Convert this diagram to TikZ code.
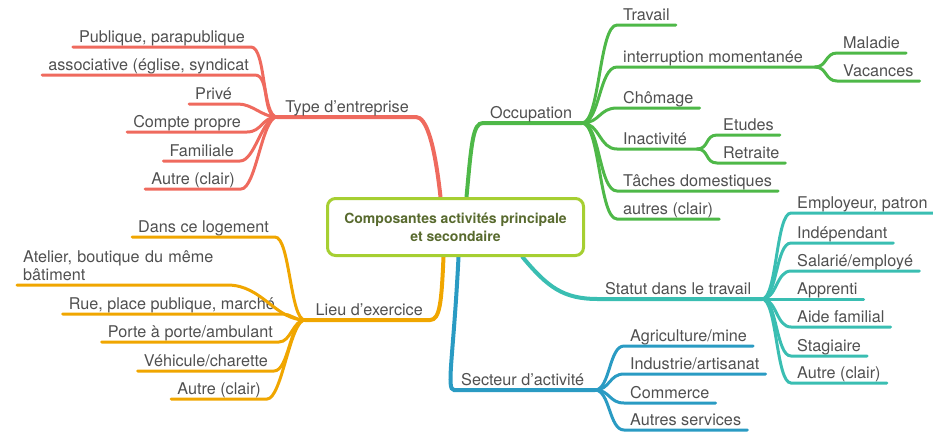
\documentclass[tikz,border=0pt]{standalone}
\usepackage{fontspec}
\setmainfont{TeX Gyre Heros}
\usepackage{xcolor}
\usepackage{tikz}
\usetikzlibrary{backgrounds}

\definecolor{mmred}{RGB}{239,106,94}
\definecolor{mmgreen}{RGB}{78,184,72}
\definecolor{mmteal}{RGB}{58,190,178}
\definecolor{mmblue}{RGB}{42,155,195}
\definecolor{mmorange}{RGB}{240,166,0}
\definecolor{mmlime}{RGB}{166,207,50}
\definecolor{mmolive}{RGB}{88,106,46}
\definecolor{mmtext}{RGB}{80,80,80}

\begin{document}
\begin{tikzpicture}[x=1pt, y=-1pt,
  root/.style={draw=mmlime, line width=3pt, rounded corners=8pt, fill=white,
    minimum width=256pt, minimum height=57pt, align=center,
    font=\fontsize{14}{18}\selectfont\bfseries, text=mmolive},
  topic/.style={font=\fontsize{16.2}{18}\selectfont, text=mmtext,
    inner xsep=7pt, inner ysep=4pt, text depth=0pt},
  leaf/.style={topic, inner xsep=6pt},
  branch/.style={line width=4pt, line cap=round},
  twig/.style={line width=3pt, line cap=round},
]
  \useasboundingbox (0,0) rectangle (933,432);

  \node[root] (root) at (455.5,227) {Composantes activités principale\\et secondaire};

  % Topics and their hubs
  \node[topic, anchor=south east] (typ) at (416,117) {Type d’entreprise};
  \coordinate (typ-hub) at (277,117);
  \node[topic, anchor=south west] (occ) at (483,123) {Occupation};
  \coordinate (occ-hub) at (582,123);
  \node[topic, anchor=south west] (stat) at (598,299) {Statut dans le travail};
  \coordinate (stat-hub) at (762,299);
  \node[topic, anchor=south west] (sec) at (454,390) {Secteur d’activité};
  \coordinate (sec-hub) at (595,390);
  \node[topic, anchor=south east] (lieu) at (430,320) {Lieu d’exercice};
  \coordinate (lieu-hub) at (305,320);

  % Main branches
  \begin{scope}[on background layer]
    \draw[branch, mmred] ([xshift=-15pt]root.north) .. controls +(-6,-55) and +(10,0) .. (typ.south east) -- (typ-hub);
    \draw[branch, mmgreen] ([xshift=11pt]root.north) .. controls +(5,-55) and +(-10,0) .. (occ.south west) -- (occ-hub);
    \draw[branch, mmorange] ([xshift=-12pt]root.south) .. controls +(-2,45) and +(10,0) .. (lieu.south east) -- (lieu-hub);
    \draw[branch, mmblue] ([xshift=3pt]root.south) .. controls +(-5,100) and +(-8,0) .. (sec.south west) -- (sec-hub);
    \draw[branch, mmteal] ([xshift=67pt]root.south) .. controls +(25,30) and +(-35,0) .. (stat.south west) -- (stat-hub);
  \end{scope}

  % Type d'entreprise
  \node[leaf, anchor=south east] (pub) at (251,47) {Publique, parapublique};
  \node[leaf, anchor=south east] (asso) at (255,75) {associative (église, syndicat};
  \node[leaf, anchor=south east] (priv) at (238,104) {Privé};
  \node[leaf, anchor=south east] (cpt) at (247,132) {Compte propre};
  \node[leaf, anchor=south east] (fam) at (240,161) {Familiale};
  \node[leaf, anchor=south east] (autr) at (241,189) {Autre (clair)};
  \draw[twig, mmred] (typ-hub) .. controls +(-15,0) and +(15,0) .. (pub.south east) -- (pub.south west);
  \draw[twig, mmred] (typ-hub) .. controls +(-15,0) and +(15,0) .. (asso.south east) -- (asso.south west);
  \draw[twig, mmred] (typ-hub) .. controls +(-15,0) and +(15,0) .. (priv.south east) -- (priv.south west);
  \draw[twig, mmred] (typ-hub) .. controls +(-15,0) and +(15,0) .. (cpt.south east) -- (cpt.south west);
  \draw[twig, mmred] (typ-hub) .. controls +(-15,0) and +(15,0) .. (fam.south east) -- (fam.south west);
  \draw[twig, mmred] (typ-hub) .. controls +(-15,0) and +(15,0) .. (autr.south east) -- (autr.south west);

  % Occupation
  \node[leaf, anchor=south west] (trav) at (617,25) {Travail};
  \node[leaf, anchor=south west] (interr) at (617,67) {interruption momentanée};
  \coordinate (int-hub) at (815,67);
  \node[leaf, anchor=south west] (mal) at (837,53) {Maladie};
  \node[leaf, anchor=south west] (vac) at (837,81) {Vacances};
  \node[leaf, anchor=south west] (cho) at (617,108) {Chômage};
  \node[leaf, anchor=south west] (inac) at (617,149) {Inactivité};
  \coordinate (ina-hub) at (697,149);
  \node[leaf, anchor=south west] (etu) at (717,135) {Etudes};
  \node[leaf, anchor=south west] (ret) at (717,163) {Retraite};
  \node[leaf, anchor=south west] (tach) at (617,191) {Tâches domestiques};
  \node[leaf, anchor=south west] (autg) at (617,219) {autres (clair)};
  \draw[twig, mmgreen] (occ-hub) .. controls +(18,0) and +(-18,0) .. (trav.south west) -- (trav.south east);
  \draw[twig, mmgreen] (occ-hub) .. controls +(18,0) and +(-18,0) .. (interr.south west) -- (int-hub);
  \draw[twig, mmgreen] (int-hub) .. controls +(12,0) and +(-12,0) .. (mal.south west) -- (mal.south east);
  \draw[twig, mmgreen] (int-hub) .. controls +(12,0) and +(-12,0) .. (vac.south west) -- (vac.south east);
  \draw[twig, mmgreen] (occ-hub) .. controls +(18,0) and +(-18,0) .. (cho.south west) -- (cho.south east);
  \draw[twig, mmgreen] (occ-hub) .. controls +(18,0) and +(-18,0) .. (inac.south west) -- (ina-hub);
  \draw[twig, mmgreen] (ina-hub) .. controls +(12,0) and +(-12,0) .. (etu.south west) -- (etu.south east);
  \draw[twig, mmgreen] (ina-hub) .. controls +(12,0) and +(-12,0) .. (ret.south west) -- (ret.south east);
  \draw[twig, mmgreen] (occ-hub) .. controls +(18,0) and +(-18,0) .. (tach.south west) -- (tach.south east);
  \draw[twig, mmgreen] (occ-hub) .. controls +(18,0) and +(-18,0) .. (autg.south west) -- (autg.south east);

  % Statut dans le travail
  \node[leaf, anchor=south west] (emp) at (791,213) {Employeur, patron};
  \node[leaf, anchor=south west] (ind) at (791,243) {Indépendant};
  \node[leaf, anchor=south west] (sal) at (791,271) {Salarié/employé};
  \node[leaf, anchor=south west] (app) at (791,299) {Apprenti};
  \node[leaf, anchor=south west] (aid) at (791,327) {Aide familial};
  \node[leaf, anchor=south west] (stag) at (791,356) {Stagiaire};
  \node[leaf, anchor=south west] (autt) at (791,383) {Autre (clair)};
  \draw[twig, mmteal] (stat-hub) .. controls +(15,0) and +(-15,0) .. (emp.south west) -- ([xshift=8pt]emp.south east);
  \draw[twig, mmteal] (stat-hub) .. controls +(15,0) and +(-15,0) .. (ind.south west) -- (ind.south east);
  \draw[twig, mmteal] (stat-hub) .. controls +(15,0) and +(-15,0) .. (sal.south west) -- (sal.south east);
  \draw[twig, mmteal] (stat-hub) -- (app.south west) -- (app.south east);
  \draw[twig, mmteal] (stat-hub) .. controls +(15,0) and +(-15,0) .. (aid.south west) -- (aid.south east);
  \draw[twig, mmteal] (stat-hub) .. controls +(15,0) and +(-15,0) .. (stag.south west) -- (stag.south east);
  \draw[twig, mmteal] (stat-hub) .. controls +(15,0) and +(-15,0) .. (autt.south west) -- (autt.south east);

  % Secteur d'activite
  \node[leaf, anchor=south west] (agri) at (624,346) {Agriculture/mine};
  \node[leaf, anchor=south west] (indu) at (624,374) {Industrie/artisanat};
  \node[leaf, anchor=south west] (comm) at (624,403) {Commerce};
  \node[leaf, anchor=south west] (autb) at (624,430) {Autres services};
  \draw[twig, mmblue] (sec-hub) .. controls +(15,0) and +(-15,0) .. (agri.south west) -- (agri.south east);
  \draw[twig, mmblue] (sec-hub) .. controls +(15,0) and +(-15,0) .. (indu.south west) -- (indu.south east);
  \draw[twig, mmblue] (sec-hub) .. controls +(15,0) and +(-15,0) .. (comm.south west) -- (comm.south east);
  \draw[twig, mmblue] (sec-hub) .. controls +(15,0) and +(-15,0) .. (autb.south west) -- (autb.south east);

  % Lieu d'exercice
  \node[leaf, anchor=south east] (dans) at (275,237) {Dans ce logement};
  \node[leaf, anchor=south west, text width=198pt, align=left, text depth=18pt] (atel) at (17,285) {Atelier, boutique du même\\bâtiment};
  \node[leaf, anchor=south east] (rue) at (281,314) {Rue, place publique, marché};
  \node[leaf, anchor=south east] (porte) at (279,342) {Porte à porte/ambulant};
  \node[leaf, anchor=south east] (veh) at (274,371) {Véhicule/charette};
  \node[leaf, anchor=south east] (auto) at (267,399) {Autre (clair)};
  \draw[twig, mmorange] (lieu-hub) .. controls +(-15,0) and +(15,0) .. (dans.south east) -- (dans.south west);
  \draw[twig, mmorange] (lieu-hub) .. controls +(-30,0) and +(35,0) .. (atel.south east) -- (atel.south west);
  \draw[twig, mmorange] (lieu-hub) .. controls +(-12,0) and +(12,0) .. (rue.south east) -- (rue.south west);
  \draw[twig, mmorange] (lieu-hub) .. controls +(-12,0) and +(12,0) .. (porte.south east) -- (porte.south west);
  \draw[twig, mmorange] (lieu-hub) .. controls +(-15,0) and +(15,0) .. (veh.south east) -- (veh.south west);
  \draw[twig, mmorange] (lieu-hub) .. controls +(-15,0) and +(15,0) .. (auto.south east) -- (auto.south west);
\end{tikzpicture}
\end{document}
